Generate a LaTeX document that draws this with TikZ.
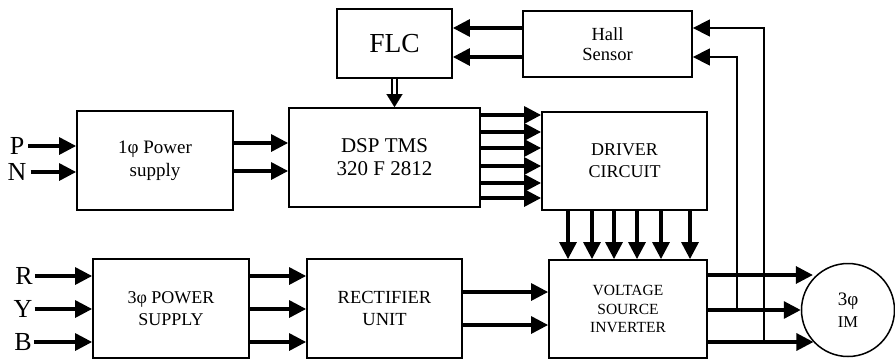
\documentclass[tikz,border=0pt]{standalone}
\usepackage{fontspec}
\setmainfont{Liberation Serif}
\usetikzlibrary{arrows.meta,calc}
\tikzset{
  box/.style={draw, line width=1.8pt, align=center, inner sep=0pt},
  arr/.style={line width=3.2pt, -{Triangle[length=17pt,width=17pt]}},
  fbarr/.style={line width=1.5pt, -{Triangle[length=17pt,width=17pt]}},
  lbl/.style={inner ysep=0pt, font=\fontsize{26}{28}\selectfont},
  dbl/.style={double, double distance=2.5pt, line width=2pt},
  dbltip/.style={line width=0.1pt, -{Triangle[length=13pt,width=16pt]}},
}
\begin{document}
\begin{tikzpicture}[x=1pt,y=-1pt]
\useasboundingbox (0,0) rectangle (895,362);
% boxes
\node[box, minimum width=115pt, minimum height=69pt, font=\fontsize{27.5}{30}\selectfont] (flc) at (394.5,43.5) {FLC};
\node[box, minimum width=169pt, minimum height=66pt, font=\fontsize{18.5}{19.5}\selectfont] (hall) at (607.5,44) {Hall\\Sensor};
\node[box, minimum width=156pt, minimum height=99pt, font=\fontsize{19}{23}\selectfont] (pw1) at (155,160.5) {1φ Power\\supply};
\node[box, minimum width=191pt, minimum height=99pt, font=\fontsize{21}{23}\selectfont] (dsp) at (384.5,157.5) {DSP TMS\\320 F 2812};
\node[box, minimum width=165pt, minimum height=98pt, font=\fontsize{18}{22}\selectfont] (drv) at (624.5,161) {DRIVER\\CIRCUIT};
\node[box, minimum width=156pt, minimum height=99pt, font=\fontsize{18}{22}\selectfont] (pw3) at (171,308.5) {3φ POWER\\SUPPLY};
\node[box, minimum width=155pt, minimum height=99pt, font=\fontsize{18.5}{22}\selectfont] (rec) at (384.5,308.5) {RECTIFIER\\UNIT};
\node[box, minimum width=158pt, minimum height=98pt, font=\fontsize{15.5}{18.5}\selectfont] (vsi) at (628,309) {VOLTAGE\\SOURCE\\INVERTER};
\node[draw, circle, line width=1.5pt, minimum size=93pt, inner sep=0pt, align=center, font=\fontsize{19}{22}\selectfont] (mot) at (848,310)
  {3φ\\{\fontsize{16.5}{22}\selectfont IM}};
% input labels
\node[lbl, inner xsep=4pt] (P) at (17,146) {P};
\node[lbl, inner xsep=4pt] (N) at (17,172) {N};
\node[lbl, inner xsep=2pt] (R) at (24,276) {R};
\node[lbl, inner xsep=2pt] (Y) at (23,309) {Y};
\node[lbl, inner xsep=2pt] (B) at (23,342) {B};
% inputs
\draw[arr] (P.east |- 0,146) -- (pw1.west |- 0,146);
\draw[arr] (N.east |- 0,172) -- (pw1.west |- 0,172);
\foreach \n/\yy in {R/276,Y/309,B/342}{
  \draw[arr] (\n.east |- 0,\yy) -- (pw3.west |- 0,\yy);
  \draw[arr] (pw3.east |- 0,\yy) -- (rec.west |- 0,\yy);
}
% pw1 -> dsp
\foreach \yy in {143,171}{
  \draw[arr] (pw1.east |- 0,\yy) -- (dsp.west |- 0,\yy);
}
% dsp -> driver
\foreach \yy in {115,132,148,166,183,198}{
  \draw[arr] (dsp.east |- 0,\yy) -- (drv.west |- 0,\yy);
}
% driver -> vsi
\foreach \xx in {568,592,614,637,661,690}{
  \draw[arr] (drv.south -| \xx,0) -- (vsi.north -| \xx,0);
}
% rectifier -> vsi
\foreach \yy in {292,325}{
  \draw[arr] (rec.east |- 0,\yy) -- (vsi.west |- 0,\yy);
}
% hall -> flc
\foreach \yy in {28,57}{
  \draw[arr] (hall.west |- 0,\yy) -- (flc.east |- 0,\yy);
}
% flc -> dsp (double)
\draw[dbl] (flc.south) -- ([yshift=12pt]flc.south |- dsp.north);
\draw[dbltip] ([yshift=13pt]flc.south |- dsp.north) -- (flc.south |- dsp.north);
% vsi -> motor
\draw[arr] (vsi.east |- 0,275) -- (mot.138.2 |- 0,275);
\draw[arr] (vsi.east |- 0,310) -- (mot.west);
\draw[arr] (vsi.east |- 0,342) -- (mot.223.5 |- 0,342);
% feedback
\coordinate (t1) at (764,342);
\coordinate (t2) at (737,310);
\draw[fbarr] (t1) |- (hall.east |- 0,28);
\draw[fbarr] (t2) |- (hall.east |- 0,57);
\end{tikzpicture}
\end{document}
